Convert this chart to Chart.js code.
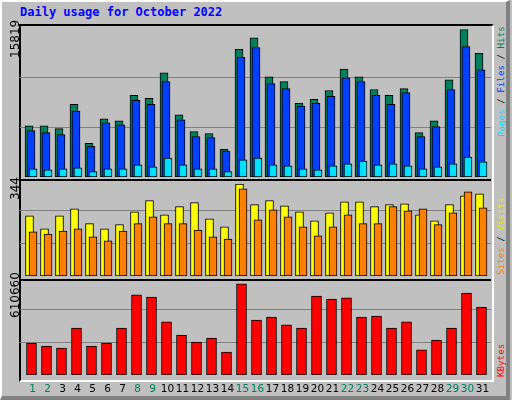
<!DOCTYPE html>
<html><head><meta charset="utf-8">
<script src="https://cdn.jsdelivr.net/npm/chart.js@4"></script>
<style>
body{margin:0;width:512px;height:400px;overflow:hidden;background:#c0c0c0;position:relative;font-family:"DejaVu Sans",sans-serif}
#outer{position:absolute;left:0;top:0;width:504px;height:394px;border-left:2px solid #fff;border-top:2px solid #fff;border-right:4px solid #808080;border-bottom:4px solid #808080;}
#plotbg{position:absolute;left:19px;top:24px;width:471px;height:354px;background:#c0c0c0;border:2px solid #000;border-right-color:#fff;border-bottom-color:#fff;box-sizing:content-box}
canvas{position:absolute}
.sep{position:absolute;left:20px;width:471px;height:2px;background:#000;z-index:5}
.t{position:absolute;white-space:nowrap}
.rot{position:absolute;transform-origin:0 0;transform:rotate(-90deg);white-space:nowrap;line-height:1}
.mono{font-family:"DejaVu Sans Mono",monospace;font-size:9.2px}
</style></head><body>
<div id="outer"></div>
<div id="plotbg"></div>
<div class="t mono" style="left:20px;top:5px;color:#0000ff;font-weight:bold;font-size:12px">Daily usage for October 2022</div>
<canvas id="c1" width="471" height="150" style="left:20px;top:27px"></canvas>
<canvas id="c2" width="471" height="99" style="left:20px;top:177px"></canvas>
<canvas id="c3" width="471" height="124" style="left:20px;top:276px"></canvas>
<div class="sep" style="top:179px"></div>
<div class="sep" style="top:279px"></div>
<div class="rot" style="left:9px;top:58px;font-size:12px">15819</div>
<div class="rot" style="left:9px;top:200px;font-size:12px">344</div>
<div class="rot" style="left:9px;top:318px;font-size:12px">610660</div>
<div class="rot mono" style="left:496px;top:137px"><span style="color:#00e0ff">Pages</span><span style="color:#000"> / </span><span style="color:#0040ff">Files</span><span style="color:#000"> / </span><span style="color:#00805c">Hits</span></div>
<div class="rot mono" style="left:496px;top:275px"><span style="color:#ff8000">Sites</span><span style="color:#000"> / </span><span style="color:#e8e800">Visits</span></div>
<div class="rot mono" style="left:496px;top:377px"><span style="color:#ff0000">KBytes</span></div>
<script>
const days=[1,2,3,4,5,6,7,8,9,10,11,12,13,14,15,16,17,18,19,20,21,22,23,24,25,26,27,28,29,30,31];
const weekend=[1,2,8,9,15,16,22,23,29,30];
const hits=[5500,5500,5190,7810,3610,6240,6030,8760,8440,11170,6660,4870,4660,2980,13690,14950,10750,10230,7920,8340,9280,11590,10750,9390,8760,9490,4770,6030,10440,15819,13270];
const files=[4980,4770,4560,7080,3300,5820,5610,8230,7810,10230,6130,4350,4240,2770,12850,13900,10020,9490,7600,7920,8650,10650,10230,8760,7810,9070,4350,5400,9390,14010,11490];
const pages=[880,780,880,990,570,880,880,1300,1090,2040,1300,880,880,570,1830,2040,1300,1200,880,780,1200,1410,1720,1300,1410,1200,880,1090,1410,2140,1620];
const visits=[225,176,225,251,196,176,192,240,282,229,259,274,214,184,344,267,282,262,240,206,236,277,277,259,267,270,229,206,267,300,307];
const sites=[165,157,168,176,146,131,168,196,221,196,196,172,146,138,326,210,247,221,184,150,184,229,196,196,259,244,251,192,236,315,255];
const kbytes=[214700,194600,181000,315000,194600,214700,315000,537000,523000,356000,268000,221000,248000,154000,610660,369000,389000,336000,315000,530000,510000,517000,389000,396000,315000,356000,168000,235000,315000,550000,456000];
const yMax1=16100, yMax2=370, yMax3=664000;

const shiftPlugin={id:'shift',afterDatasetsUpdate(chart){
  chart.data.datasets.forEach((ds,i)=>{const m=chart.getDatasetMeta(i);m.data.forEach(el=>{el.x+=ds.shift||0;});});
}};
const gridPlugin={id:'grid',beforeDatasetsDraw(chart){
  const ctx=chart.ctx,y=chart.scales.y,max=y.max;ctx.save();ctx.strokeStyle='#808080';ctx.lineWidth=1;
  [max/3,2*max/3].forEach(v=>{const p=Math.round(y.getPixelForValue(v))+0.5;ctx.beginPath();ctx.moveTo(0,p);ctx.lineTo(chart.width,p);ctx.stroke();});
  ctx.restore();}};
const labelPlugin={id:'lbl',afterDraw(chart){
  if(!chart.options.plugins.lbl||!chart.options.plugins.lbl.show)return;
  const ctx=chart.ctx,x=chart.scales.x;ctx.save();ctx.font='10.5px "DejaVu Sans"';ctx.textAlign='center';ctx.textBaseline='middle';
  days.forEach((d,i)=>{ctx.fillStyle=weekend.includes(d)?'#00805c':'#000';ctx.fillText(String(d),x.getPixelForValue(i)+1,chart.chartArea.bottom+14);});
  ctx.restore();}};

function make(id,datasets,max,padBottom,showLbl){
  return new Chart(document.getElementById(id),{type:'bar',
    data:{labels:days.map(String),datasets},
    options:{responsive:false,animation:false,devicePixelRatio:1,
      layout:{padding:{left:4,right:2,top:0,bottom:padBottom}},
      datasets:{bar:{grouped:false,borderColor:'#000',borderWidth:1,borderSkipped:false}},
      scales:{x:{display:false,offset:true},y:{display:false,min:0,max}},
      plugins:{legend:{display:false},tooltip:{enabled:false},lbl:{show:showLbl}}},
    plugins:[shiftPlugin,gridPlugin,labelPlugin]});
}
make('c1',[
  {data:hits,backgroundColor:'#00805c',barThickness:8,shift:-2.5,order:3},
  {data:files,backgroundColor:'#0040ff',barThickness:8,shift:-0.5,order:2},
  {data:pages,backgroundColor:'#00e0ff',barThickness:8,shift:1.5,order:1}],yMax1,0,false);
make('c2',[
  {data:visits,backgroundColor:'#ffff00',barThickness:8,shift:-2,order:2},
  {data:sites,backgroundColor:'#ff8000',barThickness:8,shift:1.5,order:1}],yMax2,0,false);
make('c3',[
  {data:kbytes,backgroundColor:'#ff0000',barThickness:10,shift:0}],yMax3,25,true);
</script></body></html>
